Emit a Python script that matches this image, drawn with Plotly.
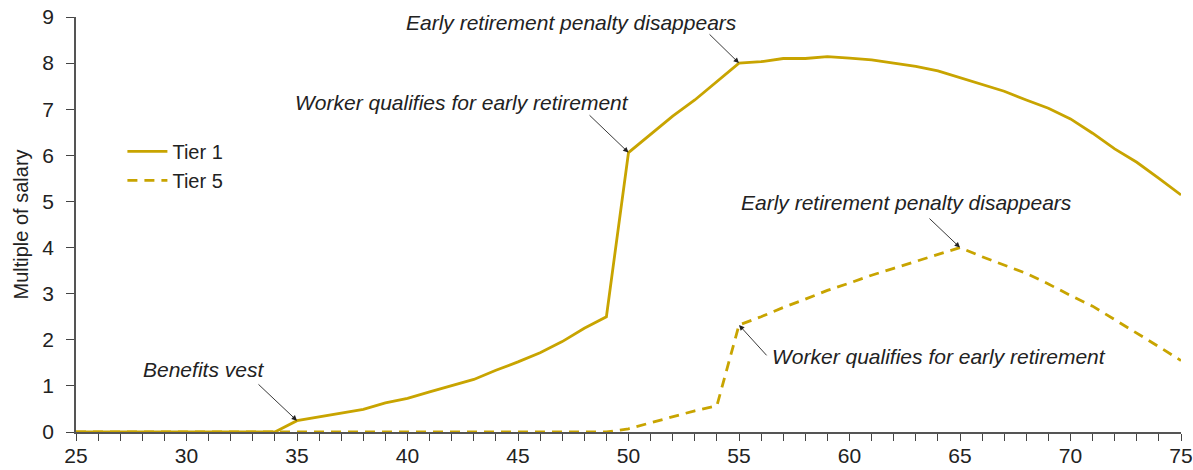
import plotly.graph_objects as go

ages = list(range(25, 76))
tier1 = [0]*10 + [0.245, 0.33, 0.42, 0.49, 0.63, 0.73, 0.87, 1.01, 1.14, 1.34,
                  1.52, 1.72, 1.96, 2.25, 2.50, 6.06, 6.45, 6.85, 7.20, 7.60,
                  8.00, 8.03, 8.10, 8.10, 8.14, 8.11, 8.07, 8.00, 7.93, 7.83,
                  7.68, 7.54, 7.39, 7.20, 7.02, 6.79, 6.48, 6.14, 5.85, 5.50, 5.14]
tier5 = [0]*25 + [0.07, 0.20, 0.34, 0.46, 0.57,
                  2.32, 2.50, 2.70, 2.88, 3.07, 3.23, 3.40, 3.55, 3.70, 3.85,
                  4.00, 3.80, 3.62, 3.44, 3.21, 2.96, 2.73, 2.44, 2.14, 1.85, 1.55]

GOLD = "#C8A400"
TXT = "#222222"
FONT = "Liberation Sans, Arial, sans-serif"

fig = go.Figure()
fig.add_trace(go.Scatter(x=ages, y=tier1, mode="lines", name="Tier 1",
                         line=dict(color=GOLD, width=2.8)))
fig.add_trace(go.Scatter(x=ages, y=tier5, mode="lines", name="Tier 5",
                         line=dict(color=GOLD, width=2.8, dash="10px,7px")))

def idx(a):
    return ages.index(a)

notes = [
    # text, text x, text y, head x, head series, tail x, tail y
    ("Benefits vest", 30.77, 1.345, 35, tier1, 33.19, 1.063),
    ("Worker qualifies for early retirement", 42.47, 7.14, 50, tier1, 48.17, 6.90),
    ("Early retirement penalty disappears", 47.42, 8.87, 55, tier1, 53.6, 8.655),
    ("Early retirement penalty disappears", 62.6, 4.97, 65, tier5, 63.55, 4.66),
    ("Worker qualifies for early retirement", 64.03, 1.63, 55, tier5, 56.31, 1.63),
]
for text, tx, ty, hx, series, axx, ayy in notes:
    fig.add_annotation(x=tx, y=ty, xref="x", yref="y", text="<i>" + text + "</i>",
                       showarrow=False, font=dict(family=FONT, size=21, color=TXT))
    fig.add_annotation(x=hx, y=series[idx(hx)], xref="x", yref="y",
                       ax=axx, ay=ayy, axref="x", ayref="y", text="",
                       showarrow=True, arrowhead=2, arrowsize=1.2, arrowwidth=0.9,
                       arrowcolor="#222222", standoff=0, startstandoff=0)

fig.update_layout(
    width=1193, height=470,
    margin=dict(l=76, r=12, t=17, b=38),
    paper_bgcolor="white", plot_bgcolor="white",
    font=dict(family=FONT, size=20, color=TXT),
    showlegend=True,
    legend=dict(x=0.042, y=0.723, xanchor="left", yanchor="top",
                bgcolor="rgba(0,0,0,0)", font=dict(size=20, color=TXT),
                tracegroupgap=0, itemwidth=40),
    xaxis=dict(range=[25, 75], tickmode="linear", tick0=25, dtick=5,
               automargin=False, ticklabeloverflow="allow",
               ticks="outside", ticklen=7, tickwidth=1.2, tickcolor="#444",
               ticklabelstandoff=-3,
               showline=True, linecolor="#555", linewidth=1.5,
               showgrid=False, zeroline=False,
               minor=dict(dtick=1, ticks="outside", ticklen=7, tickwidth=1.2,
                          tickcolor="#444", showgrid=False),
               tickfont=dict(size=21, color=TXT)),
    yaxis=dict(range=[0, 9], tickmode="linear", tick0=0, dtick=1,
               automargin=False, ticklabeloverflow="allow",
               ticks="outside", ticklen=8, tickwidth=1.2, tickcolor="#444",
               ticklabelstandoff=8,
               showline=True, linecolor="#555", linewidth=1.5,
               showgrid=False, zeroline=False,
               title=dict(text="Multiple of salary", font=dict(size=20, color=TXT),
                          standoff=8),
               tickfont=dict(size=21, color=TXT)),
)

# remove the page's default 8px body margin so the figure fills the window
fig.write_html("out.html", config={"displayModeBar": False},
               post_script="document.body.style.margin='0';document.body.style.overflow='hidden';")
